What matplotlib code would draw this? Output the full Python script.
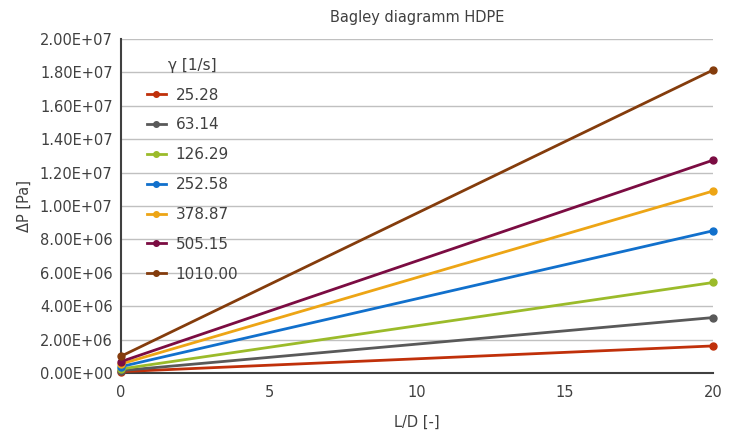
import matplotlib
matplotlib.use("Agg")
import matplotlib.pyplot as plt

ld = [0, 20]
shear_rates = ["25.28", "63.14", "126.29", "252.58", "378.87", "505.15", "1010.00"]
dp_at_0 = [0.08e6, 0.14e6, 0.24e6, 0.38e6, 0.54e6, 0.68e6, 1.0e6]
dp_at_20 = [1.62e6, 3.32e6, 5.42e6, 8.52e6, 10.9e6, 12.75e6, 18.15e6]
colors = ["#C0300A", "#595959", "#9BBB2A", "#1170CC", "#EDA515", "#7B0C42", "#843C0C"]
yticks = [i * 2e6 for i in range(11)]
ytick_labels = ["0.00E+00", "2.00E+06", "4.00E+06", "6.00E+06", "8.00E+06", "1.00E+07",
                "1.20E+07", "1.40E+07", "1.60E+07", "1.80E+07", "2.00E+07"]
xticks = [0, 5, 10, 15, 20]

fig = plt.figure(figsize=(7.33, 4.34), dpi=100)
ax = fig.add_axes([0.165, 0.1406, 0.808, 0.7694])

for lab, a, b, c in zip(shear_rates, dp_at_0, dp_at_20, colors):
    ax.plot(ld, [a, b], color=c, lw=2, marker="o", ms=5, label=lab, clip_on=False, zorder=3)

ax.set_xlim(0, 20)
ax.set_ylim(0, 2e7)
ax.set_yticks(yticks)
ax.set_yticklabels(ytick_labels)
ax.set_xticks(xticks)
ax.set_xticklabels([str(x) for x in xticks])
ax.tick_params(axis="both", length=0, labelsize=10.5, colors="#404040", pad=6)
ax.tick_params(axis="x", pad=9)
ax.grid(axis="y", color="#C0C0C0", lw=1)
ax.set_axisbelow(True)
for s in ["top", "right"]:
    ax.spines[s].set_visible(False)
for s in ["left", "bottom"]:
    ax.spines[s].set_color("#404040")
    ax.spines[s].set_linewidth(1.5)

ax.set_title("Bagley diagramm HDPE", fontsize=10.5, color="#404040", pad=12)
ax.set_xlabel("L/D [-]", fontsize=10.5, color="#404040", labelpad=10)
ax.set_ylabel("ΔP [Pa]", fontsize=10.5, color="#404040", labelpad=6)

leg = ax.legend(title="γ [1/s]", loc="upper left", bbox_to_anchor=(0.02, 0.985), frameon=False,
                fontsize=11, title_fontsize=11, handlelength=1.3, handletextpad=0.6,
                labelspacing=0.97, markerscale=0.8, labelcolor="#404040")
leg.get_title().set_color("#404040")

fig.savefig("out.png", dpi=100)
